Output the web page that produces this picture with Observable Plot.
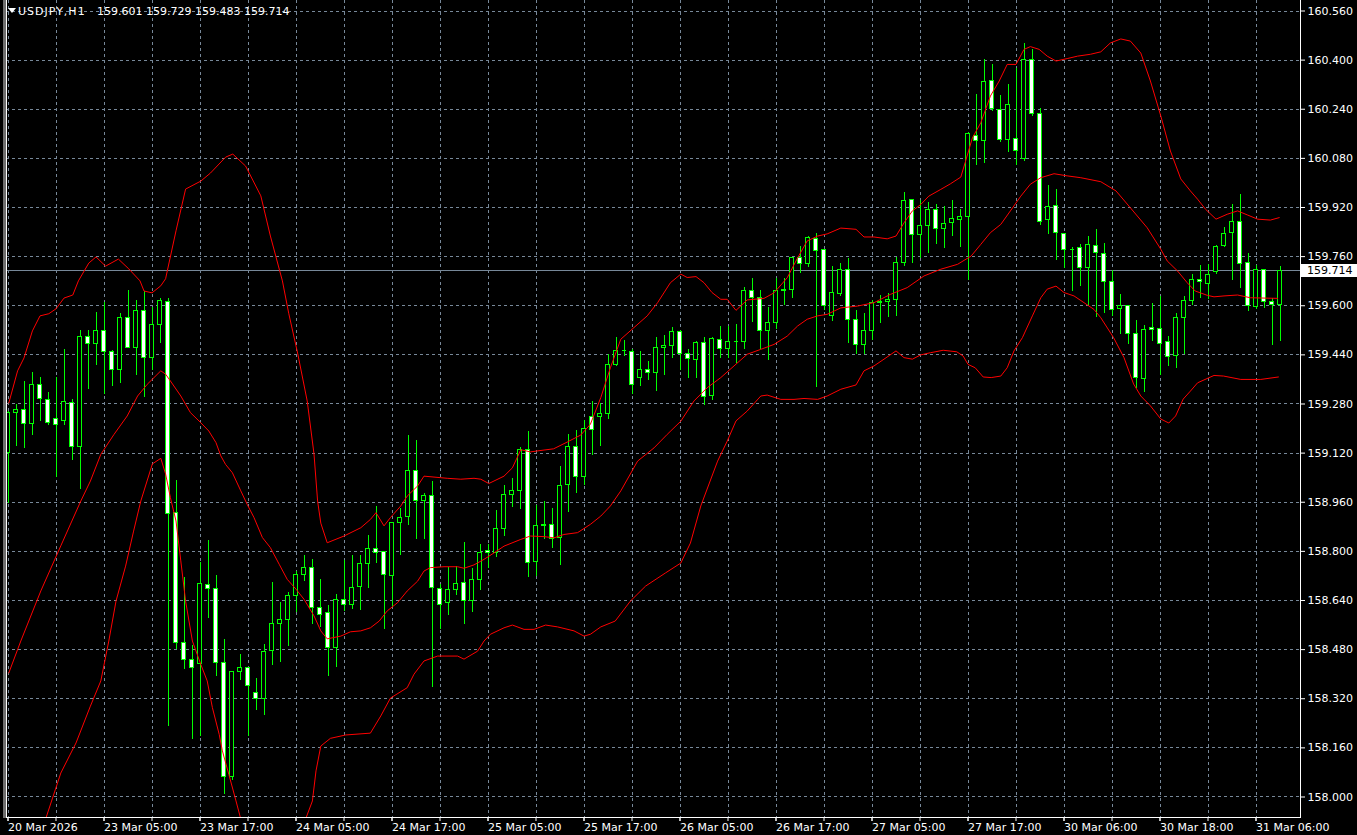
<!DOCTYPE html>
<html><head><meta charset="utf-8">
<script src="https://cdn.jsdelivr.net/npm/d3@7"></script>
<script src="https://cdn.jsdelivr.net/npm/@observablehq/plot@0.6"></script>
<style>
html,body{margin:0;padding:0;background:#000;width:1357px;height:835px;overflow:hidden;}
#chart{position:relative;width:1357px;height:835px;}
</style></head><body><div id="chart"></div>
<script>
const symbol = "USDJPY,H1";
const opens = [159.120,159.250,159.260,159.214,159.341,159.292,159.230,159.223,159.282,159.139,159.497,159.477,159.517,159.449,159.390,159.559,159.463,159.582,159.429,159.536,
159.611,158.924,158.501,158.446,158.432,158.690,158.677,158.436,158.064,158.406,158.420,158.338,158.318,158.475,158.563,158.576,158.654,158.722,158.745,158.615,
158.598,158.486,158.643,158.624,158.683,158.758,158.807,158.797,158.719,158.892,158.911,159.061,158.963,158.979,158.677,158.631,158.673,158.696,158.637,158.706,
158.800,158.794,158.872,158.983,158.996,159.129,158.764,158.882,158.885,158.843,159.015,159.139,159.041,159.237,159.237,159.247,159.406,159.455,159.449,159.364,
159.390,159.380,159.461,159.468,159.514,159.442,159.422,159.478,159.305,159.488,159.458,159.484,159.481,159.647,159.624,159.517,159.543,159.647,159.650,159.754,
159.736,159.817,159.781,159.566,159.639,159.716,159.553,159.471,159.517,159.608,159.611,159.618,159.739,159.944,159.830,159.859,159.911,159.849,159.869,159.878,
159.888,160.152,160.136,160.331,160.237,160.139,160.142,160.077,160.400,160.224,159.878,159.924,159.833,159.784,159.787,159.722,159.794,159.768,159.676,159.588,
159.598,159.507,159.360,159.527,159.523,159.481,159.435,159.559,159.615,159.683,159.670,159.709,159.794,159.836,159.872,159.739,159.595,159.716,159.611,159.601];
const highs = [159.257,159.277,159.352,159.381,159.365,159.319,159.365,159.459,159.295,159.518,159.521,159.579,159.611,159.455,159.575,159.650,159.618,159.647,159.595,159.624,
159.624,159.032,158.714,158.495,158.763,158.834,158.723,158.514,158.410,158.465,158.420,158.387,158.498,158.700,158.635,158.665,158.733,158.785,158.775,158.707,
158.625,158.658,158.771,158.785,158.785,158.853,158.947,158.799,158.892,158.940,159.179,159.160,158.990,159.029,158.693,158.748,158.751,158.830,158.745,158.823,
158.823,158.932,159.015,159.038,159.139,159.191,158.950,158.963,158.940,159.077,159.181,159.194,159.225,159.289,159.282,159.442,159.497,159.488,159.458,159.452,
159.419,159.497,159.504,159.530,159.520,159.458,159.484,159.497,159.497,159.533,159.533,159.540,159.660,159.689,159.650,159.595,159.689,159.689,159.757,159.793,
159.826,159.836,159.781,159.728,159.739,159.755,159.585,159.575,159.618,159.634,159.641,159.757,159.970,159.947,159.944,159.937,159.930,159.924,159.944,159.914,
160.165,160.289,160.403,160.386,160.285,160.321,160.373,160.455,160.435,160.243,159.992,159.979,159.833,159.790,159.800,159.826,159.849,159.803,159.716,159.637,
159.601,159.553,159.536,159.608,159.631,159.500,159.575,159.631,159.702,159.732,159.735,159.797,159.856,159.930,159.963,159.771,159.732,159.719,159.624,159.729];
const lows = [158.957,159.141,159.134,159.178,159.223,159.211,159.039,159.211,159.095,159.001,159.327,159.405,159.310,159.336,159.346,159.460,159.372,159.301,159.390,159.478,
158.229,158.481,158.414,158.186,158.197,158.581,158.392,158.009,158.054,158.381,158.197,158.281,158.265,158.428,158.437,158.490,158.600,158.703,158.561,158.551,
158.392,158.421,158.604,158.610,158.607,158.678,158.759,158.545,158.617,158.786,158.884,158.839,158.839,158.356,158.544,158.592,158.655,158.563,158.600,158.673,
158.745,158.780,158.850,158.944,158.937,158.716,158.718,158.839,158.810,158.755,158.927,158.989,159.015,159.112,159.141,159.229,159.402,159.435,159.312,159.338,
159.357,159.320,159.374,159.429,159.390,159.364,159.364,159.276,159.292,159.429,159.429,159.413,159.458,159.546,159.458,159.422,159.523,159.601,159.624,159.706,
159.726,159.333,159.583,159.550,159.629,159.476,159.442,159.442,159.488,159.542,159.561,159.566,159.728,159.738,159.754,159.770,159.800,159.787,159.826,159.790,
159.683,160.058,160.064,160.233,160.132,160.100,160.058,160.071,160.217,159.860,159.833,159.748,159.722,159.647,159.663,159.601,159.562,159.575,159.566,159.507,
159.475,159.329,159.317,159.484,159.374,159.401,159.396,159.442,159.601,159.624,159.621,159.702,159.790,159.683,159.657,159.582,159.588,159.592,159.471,159.483];
const closes = [159.252,159.260,159.214,159.341,159.295,159.217,159.211,159.286,159.139,159.497,159.477,159.517,159.449,159.390,159.559,159.463,159.582,159.429,159.536,159.615,
158.921,158.501,158.446,158.420,158.693,158.677,158.436,158.064,158.406,158.420,158.361,158.318,158.471,158.563,158.576,158.654,158.722,158.745,158.615,158.592,
158.484,158.641,158.624,158.680,158.758,158.807,158.796,158.722,158.892,158.908,159.061,158.963,158.979,158.680,158.624,158.673,158.693,158.637,158.706,158.794,
158.794,158.872,158.983,158.996,159.129,158.761,158.882,158.885,158.839,159.012,159.139,159.041,159.198,159.196,159.247,159.406,159.452,159.455,159.341,159.390,
159.380,159.461,159.468,159.514,159.442,159.426,159.478,159.302,159.491,159.458,159.481,159.484,159.647,159.624,159.517,159.543,159.647,159.650,159.754,159.736,
159.820,159.777,159.598,159.641,159.716,159.553,159.471,159.517,159.608,159.611,159.618,159.739,159.940,159.830,159.859,159.911,159.849,159.865,159.882,159.888,
160.158,160.136,160.328,160.240,160.139,160.253,160.103,160.400,160.224,159.872,159.921,159.836,159.781,159.784,159.722,159.797,159.771,159.676,159.585,159.598,
159.507,159.364,159.520,159.520,159.474,159.432,159.559,159.615,159.683,159.676,159.699,159.790,159.833,159.872,159.736,159.598,159.716,159.611,159.601,159.714];

// Bollinger band lines: [candle index, price]
const upperBand = [[0.1,159.283],[1.2,159.388],[2.0,159.430],[3.05,159.518],[4.0,159.567],[5.1,159.574],[6.0,159.590],[7.0,159.625],[8.1,159.635],[8.8,159.681],[10.1,159.739],[11,159.759],[12.2,159.729],[13.8,159.752],[15.1,159.720],[16.5,159.681],[17,159.648],[18,159.642],[19.1,159.665],[19.7,159.688],[21,159.844],[22.2,159.980],[24.1,160.006],[25.3,160.032],[27.2,160.084],[28.1,160.094],[29.7,160.055],[31.6,159.958],[32.8,159.827],[34.3,159.681],[35.1,159.574],[36.2,159.446],[37.4,159.290],[38.25,159.117],[38.7,158.964],[39.1,158.892],[39.9,158.828],[42,158.850],[44.1,158.877],[45.3,158.904],[46,158.926],[47,158.883],[47.8,158.910],[49.1,158.948],[49.9,158.980],[51.2,159.013],[52,159.045],[53.25,159.042],[54.9,159.038],[56.6,159.035],[58.25,159.038],[59.1,159.035],[60.1,159.021],[62,159.045],[63.05,159.072],[64.1,159.131],[65.3,159.124],[67,159.130],[68.2,159.134],[69.9,159.156],[71.6,159.179],[72.8,159.214],[74.1,159.301],[75.3,159.398],[76.6,159.491],[78.25,159.529],[79.9,159.567],[81.2,159.610],[82.8,159.675],[84.1,159.703],[84.9,159.692],[86,159.695],[87,159.675],[88,159.643],[89.1,159.621],[89.9,159.621],[91,159.585],[92.4,159.619],[94.5,159.624],[95.75,159.642],[97.4,159.691],[98.7,159.756],[99.9,159.811],[101.2,159.827],[102.4,159.834],[104.1,159.853],[106,159.849],[107,159.824],[108.25,159.824],[109.9,159.818],[111,159.827],[112,159.870],[113.05,159.909],[114.1,159.930],[115.1,159.957],[116.6,159.979],[117.8,159.997],[119.1,160.019],[119.7,160.071],[120.55,160.147],[121.6,160.196],[122.8,160.283],[123.9,160.332],[124.9,160.386],[126,160.386],[127,160.435],[127.8,160.444],[128.9,160.435],[129.9,160.413],[131,160.397],[132.4,160.405],[133.7,160.413],[135.3,160.419],[136.6,160.427],[137.8,160.456],[139.1,160.469],[140.3,160.462],[141.6,160.423],[142.8,160.332],[144.1,160.218],[145.3,160.104],[146.6,160.013],[147.8,159.974],[148.7,159.947],[149.7,159.914],[151,159.882],[152.4,159.898],[153.7,159.909],[154.9,159.896],[156.2,159.882],[157.8,159.879],[158.9,159.887]];
const middleBand = [[0.1,158.404],[1.6,158.508],[4.1,158.671],[6.6,158.818],[9.1,158.964],[10.3,159.029],[11.6,159.116],[13.25,159.181],[14.9,159.241],[16.2,159.306],[17.4,159.344],[19.1,159.388],[19.7,159.377],[20.3,159.355],[21.6,159.306],[22.8,159.252],[24.1,159.219],[25.1,159.192],[26,159.154],[26.6,159.111],[27.2,159.083],[28.05,159.056],[29.1,158.997],[29.9,158.953],[30.75,158.910],[31.8,158.845],[32.8,158.812],[33.9,158.758],[34.9,158.709],[36,158.677],[37,158.644],[38.25,158.590],[39.1,158.541],[39.9,158.515],[41.6,158.524],[42.8,158.538],[44.1,158.541],[45.3,158.551],[46.4,158.573],[47.4,158.606],[48.7,158.633],[49.9,158.671],[51.2,158.703],[52,158.736],[52.8,158.747],[54.5,158.750],[56.2,158.750],[57,158.745],[58.25,158.756],[59.5,158.774],[60.75,158.795],[62,158.817],[64.1,158.839],[65.3,158.850],[67,158.848],[68.25,158.844],[69.5,158.855],[71.2,158.861],[72.8,158.888],[74.1,158.915],[75.3,158.948],[76.6,158.997],[78.7,159.094],[80.75,159.137],[82.4,159.181],[84.1,159.224],[85.75,159.290],[87.4,159.333],[89.1,159.366],[90.75,159.404],[92.4,159.442],[94.1,159.458],[95.75,159.474],[97.4,159.501],[98.7,159.534],[99.9,159.556],[101.2,159.567],[102.4,159.572],[104.1,159.593],[106.2,159.599],[108.25,159.610],[110.3,159.637],[112.4,159.659],[114.5,159.697],[116.6,159.719],[118.7,159.735],[120.4,159.762],[121.6,159.800],[122.8,159.838],[124.1,159.865],[125.3,159.909],[126.6,159.957],[127.8,159.996],[129.1,160.017],[130.75,160.030],[132.4,160.023],[134.1,160.017],[136.6,160.004],[138.5,159.974],[140.3,159.919],[142.4,159.854],[144.1,159.784],[144.9,159.746],[146.2,159.713],[147.4,159.675],[148.4,159.648],[149.9,159.634],[150.75,159.629],[152,159.632],[153.7,159.635],[155.3,159.626],[158.7,159.624]];
const lowerBand = [[0,157.53],[4.7,157.928],[6.6,158.078],[8.5,158.176],[10.3,158.296],[11.6,158.378],[12.6,158.508],[13.5,158.638],[14.7,158.752],[15.7,158.866],[16.6,158.964],[18.05,159.085],[19.1,159.103],[19.7,159.052],[20.3,158.975],[21,158.899],[21.6,158.769],[22.2,158.638],[23.05,158.508],[24.1,158.432],[24.9,158.378],[25.55,158.291],[26.4,158.204],[26.8,158.150],[27.6,158.074],[28.5,157.987],[29.1,157.928],[32.5,157.70],[37.2,157.928],[38.05,157.987],[38.5,158.085],[39.1,158.166],[40.3,158.191],[42.2,158.202],[45.3,158.208],[46.6,158.264],[47.8,158.322],[49.9,158.356],[50.75,158.400],[52,158.443],[53.7,158.459],[56.2,158.459],[57,158.449],[58.7,158.475],[59.5,158.508],[60.3,158.530],[62,158.551],[63.05,158.560],[64.5,158.546],[65.75,158.546],[67.2,158.560],[68.7,158.554],[70.75,158.541],[72,158.524],[72.8,158.530],[74.1,158.554],[75.9,158.573],[77.8,158.638],[79.7,158.687],[82.2,158.730],[84.1,158.762],[85.3,158.827],[86.6,158.948],[88.7,159.094],[89.9,159.159],[91,159.225],[92.4,159.257],[94.1,159.306],[94.9,159.309],[96.6,159.295],[98.25,159.295],[99.5,159.298],[101.2,159.295],[102.4,159.306],[104.1,159.328],[106,159.342],[107,159.388],[108.25,159.404],[109.5,159.426],[111,159.453],[112,159.431],[113.05,159.426],[114.1,159.440],[115.3,159.447],[116.9,159.455],[118.6,159.450],[119.4,159.436],[120,159.409],[120.9,159.398],[121.9,159.368],[122.9,159.366],[124.1,159.371],[124.9,159.398],[125.75,159.453],[126.8,159.496],[128.05,159.567],[129.1,159.626],[129.9,159.654],[131,159.664],[132,159.643],[133.25,159.632],[134.5,159.610],[135.75,159.588],[136.6,159.561],[138.2,159.496],[139.5,159.431],[140.7,159.345],[141.6,159.306],[142.8,159.274],[144.1,159.231],[145.1,159.218],[145.95,159.241],[146.9,159.296],[147.8,159.322],[148.7,159.349],[150.75,159.373],[151.95,159.371],[154.1,159.360],[156.6,159.360],[158.8,159.368]];

const priceTicks = [158.000,158.160,158.320,158.480,158.640,158.800,158.960,159.120,159.280,159.440,159.600,159.760,159.920,160.080,160.240,160.400,160.560];
const dateTickIdx = [0,12,24,36,48,60,72,84,96,108,120,132,144,156];
const dateTickLabels = ["20 Mar 2026","23 Mar 05:00","23 Mar 17:00","24 Mar 05:00","24 Mar 17:00","25 Mar 05:00","25 Mar 17:00","26 Mar 05:00","26 Mar 17:00","27 Mar 05:00","27 Mar 17:00","30 Mar 06:00","30 Mar 18:00","31 Mar 06:00"];
const gridIdx = [0,6,12,18,24,30,36,42,48,54,60,66,72,78,84,90,96,102,108,114,120,126,132,138,144,150,156];
const bid = 159.714;

const candles = opens.map((o, i) => ({i, o, h: highs[i], l: lows[i], c: closes[i]}));
const bulls = candles.filter(d => d.c > d.o);
const bears = candles.filter(d => d.c < d.o);
const dojis = candles.filter(d => d.c === d.o);

const GREEN = "#00ff00", GRID = "#778899";
const W = 1357, H = 835;
const gridOpts = {stroke: GRID, strokeOpacity: 1, strokeDasharray: "3,3", shapeRendering: "crispEdges"};

const plot = Plot.plot({
  width: W, height: H,
  marginLeft: 6, marginRight: 57, marginTop: 0, marginBottom: 18,
  x: {type: "linear", domain: [-0.1875, 161.5625], axis: null},
  y: {type: "linear", domain: [157.9332, 160.5942], axis: null},
  style: {background: "#000", color: "#fff", fontFamily: "DejaVu Sans", fontSize: "11px"},
  marks: [
    Plot.gridY(priceTicks, gridOpts),
    Plot.gridX(gridIdx, gridOpts),
    Plot.ruleY([bid], {stroke: GRID, shapeRendering: "crispEdges"}),
    Plot.ruleX(candles, {x: "i", y1: "l", y2: "h", stroke: GREEN, shapeRendering: "crispEdges", clip: true}),
    Plot.rect(bulls, {x1: d => d.i - 0.25, x2: d => d.i + 0.25, y1: "o", y2: "c", fill: "#000", stroke: GREEN, shapeRendering: "crispEdges"}),
    Plot.rect(bears, {x1: d => d.i - 0.25, x2: d => d.i + 0.25, y1: "o", y2: "c", fill: "#fff", stroke: GREEN, shapeRendering: "crispEdges"}),
    Plot.ruleY(dojis, {y: "o", x1: d => d.i - 0.25, x2: d => d.i + 0.25, stroke: GREEN, shapeRendering: "crispEdges"}),
    Plot.line(upperBand, {x: d => d[0], y: d => d[1], stroke: "#ff0000", strokeWidth: 1, clip: true}),
    Plot.line(middleBand, {x: d => d[0], y: d => d[1], stroke: "#ff0000", strokeWidth: 1, clip: true}),
    Plot.line(lowerBand, {x: d => d[0], y: d => d[1], stroke: "#ff0000", strokeWidth: 1, clip: true}),
    Plot.axisY(priceTicks, {anchor: "right", label: null, tickSize: 4, tickPadding: 3, tickFormat: d => d.toFixed(3), stroke: "#fff", fill: "#fff"}),
    Plot.axisX(gridIdx, {anchor: "bottom", label: null, tickSize: 4, tickFormat: () => "", stroke: "#fff"}),
    Plot.axisX(dateTickIdx, {anchor: "bottom", label: null, tickSize: 4, tickPadding: 2, textAnchor: "start", dx: 0,
      tickFormat: d => dateTickLabels[dateTickIdx.indexOf(d)], stroke: "#fff", fill: "#fff"})
  ]
});
document.getElementById("chart").appendChild(plot);

// decorations: frame, bid price label, header
const svg = d3.select(plot);
const yS = plot.scale("y");
const plotBottom = H - 18, plotRight = W - 57;
svg.append("rect").attr("x", 3).attr("y", 0).attr("width", 3).attr("height", plotBottom + 1).attr("fill", "#6f6f6f");
svg.append("line").attr("x1", 6.5).attr("x2", 6.5).attr("y1", 0).attr("y2", plotBottom + 0.5).attr("stroke", "#fff");
svg.append("line").attr("x1", plotRight + 0.5).attr("x2", plotRight + 0.5).attr("y1", 0).attr("y2", plotBottom + 0.5).attr("stroke", "#fff");
svg.append("line").attr("x1", 6).attr("x2", plotRight + 1).attr("y1", plotBottom + 0.5).attr("y2", plotBottom + 0.5).attr("stroke", "#fff");

const by = Math.round(yS.apply(bid));
svg.append("rect").attr("x", plotRight + 1).attr("y", by - 6).attr("width", W - plotRight - 1).attr("height", 13).attr("fill", "#fff");
svg.append("text").attr("x", plotRight + 7).attr("y", by + 4).attr("fill", "#000").attr("text-anchor", "start")
  .attr("font-family", "DejaVu Sans").attr("font-size", 11).text(bid.toFixed(3));

const last = candles[candles.length - 1];
const header = svg.append("g").attr("text-anchor", "start").attr("fill", "#fff").attr("font-size", 11).attr("font-family", "DejaVu Sans");
header.append("path").attr("d", "M8,8 L16,8 L12,13 Z").attr("fill", "#fff");
header.append("text").attr("x", 18).attr("y", 15).attr("letter-spacing", 1).text(symbol);
header.append("text").attr("x", 97).attr("y", 15)
  .text([last.o, last.h, last.l, last.c].map(v => v.toFixed(3)).join(" "));
</script>
</body></html>
